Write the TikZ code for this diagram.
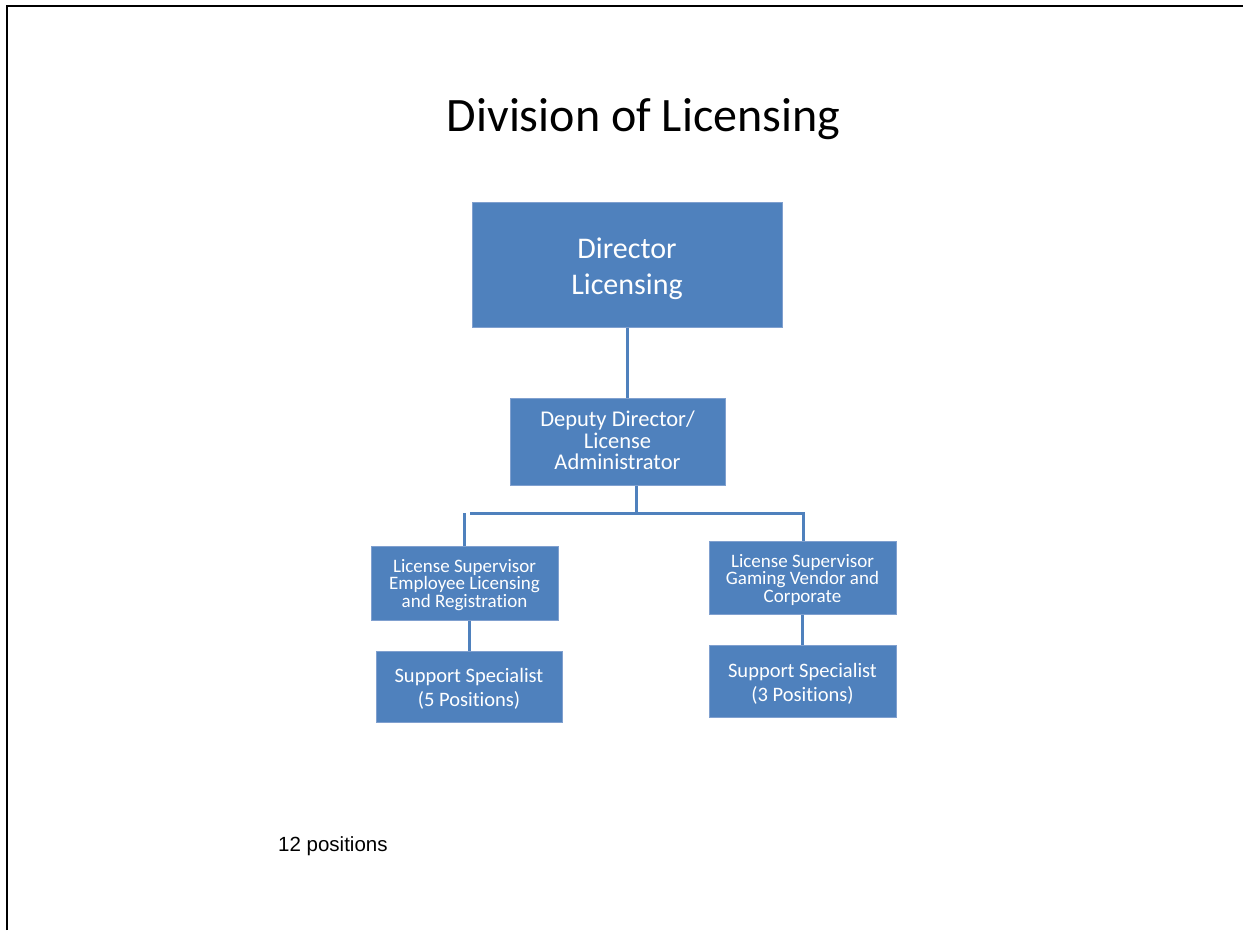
\documentclass[tikz,border=0pt]{standalone}
\usepackage{fontspec}
\setmainfont{Carlito}[Ligatures=CommonOff]
\newfontfamily\arialfont{Liberation Sans}
\definecolor{boxblue}{RGB}{79,129,189}
\definecolor{boxedge}{RGB}{128,160,207}

\begin{document}
\begin{tikzpicture}[x=1pt,y=-1pt,
  unit/.style={fill=boxblue,draw=boxedge,line width=1pt,inner sep=0pt},
  unittext/.style={text=white,align=center,inner sep=0pt},
  link/.style={draw=boxblue,line width=3pt}]
\useasboundingbox (0,0) rectangle (1243,930);
\draw[line width=2pt](7,930)--(7,6)--(1243,6);
\node[anchor=base](title) at (643.5,131) {\fontsize{48}{56}\selectfont Division of Licensing};
% boxes
\node[unit,minimum width=310,minimum height=125](dir) at (627,264.5) {};
\node[unit,minimum width=215,minimum height=87](dep) at (617.5,441.5) {};
\node[unit,minimum width=187,minimum height=74](lsup) at (464.5,583) {};
\node[unit,minimum width=187,minimum height=73](rsup) at (802.5,577.5) {};
\node[unit,minimum width=186,minimum height=71](lsp) at (469,686.5) {};
\node[unit,minimum width=187,minimum height=72](rsp) at (802.5,681) {};
% box texts
\node[unittext,font=\fontsize{30}{36}\selectfont](dir-t) at ([yshift=-4]dir.center) {Director\\Licensing};
\node[unittext,font=\fontsize{22.5}{21.5}\selectfont](dep-t) at ([yshift=1]dep.center) {Deputy Director/\\License\\Administrator};
\node[unittext,font=\fontsize{19}{17.5}\selectfont](lsup-t) at ([yshift=-2]lsup.center) {License Supervisor\\Employee Licensing\\and Registration};
\node[unittext,font=\fontsize{19}{17.5}\selectfont](rsup-t) at ([yshift=-2]rsup.center) {License Supervisor\\Gaming Vendor and\\Corporate};
\node[unittext,font=\fontsize{20.5}{24}\selectfont](lsp-t) at ([yshift=-2.5]lsp.center) {Support Specialist\\(5 Positions)};
\node[unittext,font=\fontsize{20.5}{24}\selectfont](rsp-t) at ([yshift=-3]rsp.center) {Support Specialist\\(3 Positions)};
\node[anchor=base west,inner sep=0pt](count) at (278,851) {\arialfont\fontsize{20.5}{24}\selectfont 12 positions};
% connectors
\coordinate (bar) at (636,513);
\coordinate (barL) at (470,513);
\coordinate (barR) at (803,513);
\coordinate (stubL) at (464.5,513);
\draw[link](dir.south)--(dir.south |- dep.north);
\draw[link](dep.south -| bar)--(bar);
\draw[link](barL)--(barR)--(barR |- rsup.north);
\draw[link](stubL)--(lsup.north);
\draw[link](lsup.south -| lsp)--(lsp);
\draw[link](rsup)--(rsp);
\end{tikzpicture}
\end{document}
